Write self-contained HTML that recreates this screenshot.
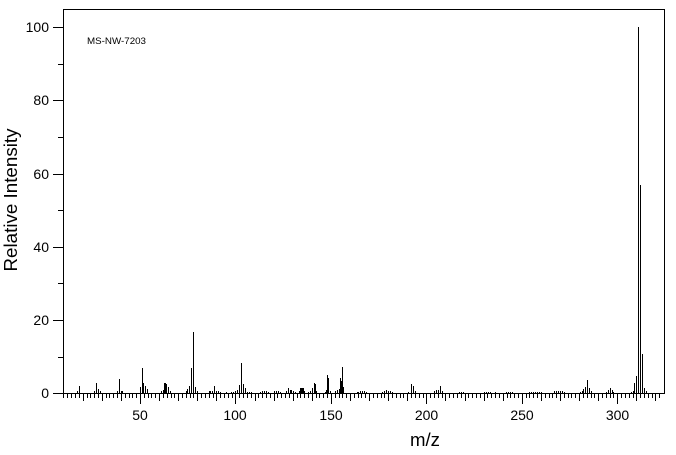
<!DOCTYPE html>
<html><head><meta charset="utf-8"><style>
html,body{margin:0;padding:0;background:#fff;}
svg{display:block;}
text{font-family:"Liberation Sans",sans-serif;fill:#000;}
</style></head><body>
<svg width="676" height="455" viewBox="0 0 676 455" xmlns="http://www.w3.org/2000/svg" shape-rendering="crispEdges">
<rect x="0" y="0" width="676" height="455" fill="#fff"/>
<!-- frame -->
<path d="M63.5 9.5H664.5V393.5H63.5Z" fill="none" stroke="#000" stroke-width="1"/>
<!-- y ticks -->
<path stroke="#000" stroke-width="1" fill="none" d="
M53 393.5H63 M58 357.5H63 M53 320.5H63 M58 283.5H63 M53 247.5H63 M58 210.5H63
M53 174.5H63 M58 137.5H63 M53 100.5H63 M58 64.5H63 M53 27.5H63"/>
<!-- x ticks -->
<path stroke="#000" stroke-width="1" fill="none" d="
M63.5 393v5 M67.5 393v5 M71.5 393v5 M75.5 393v5 M79.5 393v5 M83.5 393v8 M87.5 393v5 M90.5 393v5 M94.5 393v5 M98.5 393v5
M102.5 393v8 M106.5 393v5 M109.5 393v5 M113.5 393v5 M117.5 393v5 M121.5 393v8 M125.5 393v5 M129.5 393v5 M132.5 393v5 M136.5 393v5
M140.5 393v11 M144.5 393v5 M148.5 393v5 M151.5 393v5 M155.5 393v5 M159.5 393v8 M163.5 393v5 M167.5 393v5 M171.5 393v5 M174.5 393v5
M178.5 393v8 M182.5 393v5 M186.5 393v5 M190.5 393v5 M193.5 393v5 M197.5 393v8 M201.5 393v5 M205.5 393v5 M209.5 393v5 M213.5 393v5
M216.5 393v8 M220.5 393v5 M224.5 393v5 M228.5 393v5 M232.5 393v5 M235.5 393v11 M239.5 393v5 M243.5 393v5 M247.5 393v5 M251.5 393v5
M255.5 393v8 M258.5 393v5 M262.5 393v5 M266.5 393v5 M270.5 393v5 M274.5 393v8 M277.5 393v5 M281.5 393v5 M285.5 393v5 M289.5 393v5
M293.5 393v8 M297.5 393v5 M300.5 393v5 M304.5 393v5 M308.5 393v5 M312.5 393v8 M316.5 393v5 M319.5 393v5 M323.5 393v5 M327.5 393v5
M331.5 393v11 M335.5 393v5 M339.5 393v5 M342.5 393v5 M346.5 393v5 M350.5 393v8 M354.5 393v5 M358.5 393v5 M361.5 393v5 M365.5 393v5
M369.5 393v8 M373.5 393v5 M377.5 393v5 M381.5 393v5 M384.5 393v5 M388.5 393v8 M392.5 393v5 M396.5 393v5 M400.5 393v5 M403.5 393v5
M407.5 393v8 M411.5 393v5 M415.5 393v5 M419.5 393v5 M423.5 393v5 M426.5 393v11 M430.5 393v5 M434.5 393v5 M438.5 393v5 M442.5 393v5
M445.5 393v8 M449.5 393v5 M453.5 393v5 M457.5 393v5 M461.5 393v5 M465.5 393v8 M468.5 393v5 M472.5 393v5 M476.5 393v5 M480.5 393v5
M484.5 393v8 M487.5 393v5 M491.5 393v5 M495.5 393v5 M499.5 393v5 M503.5 393v8 M507.5 393v5 M510.5 393v5 M514.5 393v5 M518.5 393v5
M522.5 393v11 M526.5 393v5 M529.5 393v5 M533.5 393v5 M537.5 393v5 M541.5 393v8 M545.5 393v5 M549.5 393v5 M552.5 393v5 M556.5 393v5
M560.5 393v8 M564.5 393v5 M568.5 393v5 M571.5 393v5 M575.5 393v5 M579.5 393v8 M583.5 393v5 M587.5 393v5 M591.5 393v5 M594.5 393v5
M598.5 393v8 M602.5 393v5 M606.5 393v5 M610.5 393v5 M613.5 393v5 M617.5 393v11 M621.5 393v5 M625.5 393v5 M629.5 393v5 M633.5 393v5
M636.5 393v8 M640.5 393v5 M644.5 393v5 M648.5 393v5 M652.5 393v5 M655.5 393v8 M659.5 393v5"/>
<!-- peaks -->
<g fill="#000">
<rect x="77" y="391" width="1" height="2"/><rect x="79" y="386" width="1" height="7"/>
<rect x="94" y="391" width="1" height="2"/><rect x="96" y="383" width="1" height="10"/><rect x="98" y="389" width="1" height="4"/><rect x="100" y="391" width="1" height="2"/>
<rect x="117" y="391" width="1" height="2"/><rect x="119" y="379" width="1" height="14"/><rect x="121" y="391" width="1" height="2"/><rect x="122" y="391" width="1" height="2"/>
<rect x="140" y="387" width="1" height="6"/><rect x="142" y="368" width="1" height="25"/><rect x="143" y="383" width="1" height="10"/><rect x="145" y="386" width="1" height="7"/><rect x="147" y="389" width="1" height="4"/>
<rect x="161" y="391" width="1" height="2"/><rect x="163" y="390" width="1" height="3"/><rect x="164" y="383" width="2" height="10"/><rect x="166" y="384" width="1" height="9"/><rect x="168" y="387" width="1" height="6"/><rect x="170" y="391" width="1" height="2"/>
<rect x="186" y="391" width="1" height="2"/><rect x="187" y="389" width="1" height="4"/><rect x="189" y="386" width="1" height="7"/><rect x="191" y="368" width="1" height="25"/><rect x="193" y="332" width="1" height="61"/><rect x="195" y="387" width="1" height="6"/><rect x="197" y="391" width="1" height="2"/>
<rect x="209" y="391" width="1" height="2"/><rect x="210" y="391" width="1" height="2"/><rect x="212" y="391" width="1" height="2"/><rect x="214" y="386" width="1" height="7"/><rect x="216" y="391" width="1" height="2"/><rect x="218" y="391" width="1" height="2"/><rect x="220" y="392" width="1" height="1"/>
<rect x="226" y="392" width="1" height="1"/><rect x="231" y="392" width="1" height="1"/><rect x="233" y="392" width="1" height="1"/><rect x="235" y="391" width="1" height="2"/><rect x="237" y="390" width="1" height="3"/><rect x="239" y="385" width="1" height="8"/><rect x="241" y="363" width="1" height="30"/><rect x="243" y="384" width="1" height="9"/><rect x="245" y="388" width="1" height="5"/><rect x="247" y="392" width="1" height="1"/><rect x="249" y="392" width="1" height="1"/><rect x="251" y="392" width="1" height="1"/>
<rect x="260" y="392" width="1" height="1"/><rect x="262" y="391" width="1" height="2"/><rect x="264" y="391" width="1" height="2"/><rect x="266" y="391" width="1" height="2"/><rect x="268" y="392" width="1" height="1"/>
<rect x="274" y="391" width="1" height="2"/><rect x="276" y="391" width="1" height="2"/><rect x="278" y="391" width="1" height="2"/><rect x="280" y="392" width="1" height="1"/>
<rect x="286" y="391" width="1" height="2"/><rect x="288" y="388" width="1" height="5"/><rect x="290" y="390" width="2" height="3"/><rect x="293" y="391" width="1" height="2"/><rect x="295" y="392" width="1" height="1"/>
<rect x="299" y="391" width="1" height="2"/><rect x="300" y="388" width="4" height="5"/><rect x="304" y="391" width="1" height="2"/><rect x="308" y="392" width="1" height="1"/><rect x="310" y="391" width="1" height="2"/>
<rect x="312" y="388" width="1" height="5"/><rect x="314" y="383" width="1" height="10"/><rect x="315" y="384" width="1" height="9"/><rect x="316" y="391" width="1" height="2"/>
<rect x="325" y="392" width="1" height="1"/><rect x="326" y="390" width="1" height="3"/><rect x="327" y="375" width="1" height="18"/><rect x="328" y="378" width="1" height="15"/><rect x="330" y="391" width="1" height="2"/>
<rect x="335" y="391" width="1" height="2"/><rect x="337" y="390" width="1" height="3"/><rect x="339" y="389" width="1" height="4"/><rect x="340" y="378" width="1" height="15"/><rect x="341" y="381" width="1" height="12"/><rect x="342" y="367" width="1" height="26"/><rect x="343" y="387" width="1" height="6"/>
<rect x="357" y="392" width="1" height="1"/><rect x="358" y="392" width="1" height="1"/><rect x="360" y="391" width="1" height="2"/><rect x="362" y="391" width="1" height="2"/><rect x="364" y="391" width="1" height="2"/><rect x="366" y="392" width="1" height="1"/>
<rect x="382" y="392" width="1" height="1"/><rect x="384" y="391" width="1" height="2"/><rect x="386" y="390" width="1" height="3"/><rect x="388" y="391" width="1" height="2"/><rect x="390" y="391" width="1" height="2"/><rect x="392" y="392" width="1" height="1"/>
<rect x="408" y="392" width="1" height="1"/><rect x="411" y="384" width="1" height="9"/><rect x="413" y="386" width="1" height="7"/><rect x="415" y="391" width="1" height="2"/>
<rect x="434" y="391" width="1" height="2"/><rect x="436" y="390" width="1" height="3"/><rect x="438" y="390" width="1" height="3"/><rect x="440" y="386" width="1" height="7"/><rect x="442" y="391" width="1" height="2"/>
<rect x="459" y="392" width="1" height="1"/><rect x="461" y="392" width="1" height="1"/><rect x="463" y="392" width="1" height="1"/>
<rect x="484" y="392" width="1" height="1"/><rect x="486" y="392" width="1" height="1"/><rect x="488" y="392" width="1" height="1"/><rect x="490" y="392" width="1" height="1"/><rect x="495" y="392" width="1" height="1"/>
<rect x="506" y="392" width="1" height="1"/><rect x="508" y="392" width="1" height="1"/><rect x="510" y="392" width="1" height="1"/><rect x="512" y="392" width="1" height="1"/>
<rect x="529" y="392" width="1" height="1"/><rect x="531" y="392" width="1" height="1"/><rect x="533" y="392" width="1" height="1"/><rect x="535" y="392" width="1" height="1"/><rect x="537" y="392" width="1" height="1"/><rect x="539" y="392" width="1" height="1"/><rect x="541" y="392" width="1" height="1"/>
<rect x="554" y="391" width="1" height="2"/><rect x="556" y="391" width="1" height="2"/><rect x="558" y="391" width="1" height="2"/><rect x="560" y="391" width="1" height="2"/><rect x="562" y="391" width="1" height="2"/><rect x="564" y="392" width="1" height="1"/>
<rect x="580" y="392" width="1" height="1"/><rect x="582" y="391" width="1" height="2"/><rect x="583" y="389" width="1" height="4"/><rect x="585" y="387" width="1" height="6"/><rect x="587" y="380" width="1" height="13"/><rect x="589" y="388" width="1" height="5"/><rect x="591" y="391" width="1" height="2"/>
<rect x="606" y="392" width="1" height="1"/><rect x="608" y="390" width="1" height="3"/><rect x="610" y="388" width="1" height="5"/><rect x="612" y="390" width="1" height="3"/><rect x="613" y="392" width="1" height="1"/>
<rect x="631" y="392" width="1" height="1"/><rect x="633" y="391" width="1" height="2"/><rect x="634" y="383" width="1" height="10"/><rect x="636" y="376" width="1" height="17"/><rect x="638" y="27" width="1" height="366"/><rect x="640" y="185" width="1" height="208"/><rect x="642" y="354" width="1" height="39"/><rect x="644" y="388" width="1" height="5"/><rect x="646" y="391" width="1" height="2"/>
</g>
<!-- y labels -->
<g font-size="14" text-anchor="end">
<text x="49" y="398">0</text>
<text x="49" y="325">20</text>
<text x="49" y="252">40</text>
<text x="49" y="179">60</text>
<text x="49" y="105">80</text>
<text x="49" y="32">100</text>
</g>
<!-- x labels -->
<g font-size="14" text-anchor="middle">
<text x="140" y="420">50</text>
<text x="235" y="420">100</text>
<text x="331" y="420">150</text>
<text x="426.5" y="420">200</text>
<text x="522" y="420">250</text>
<text x="617.5" y="420">300</text>
</g>
<text x="87" y="44" font-size="9" textLength="59" lengthAdjust="spacingAndGlyphs">MS-NW-7203</text>
<text x="425" y="446" font-size="18" text-anchor="middle" textLength="30" lengthAdjust="spacingAndGlyphs">m/z</text>
<text transform="translate(17,200) rotate(-90)" font-size="18" text-anchor="middle" textLength="143" lengthAdjust="spacingAndGlyphs">Relative Intensity</text>
</svg>
</body></html>
